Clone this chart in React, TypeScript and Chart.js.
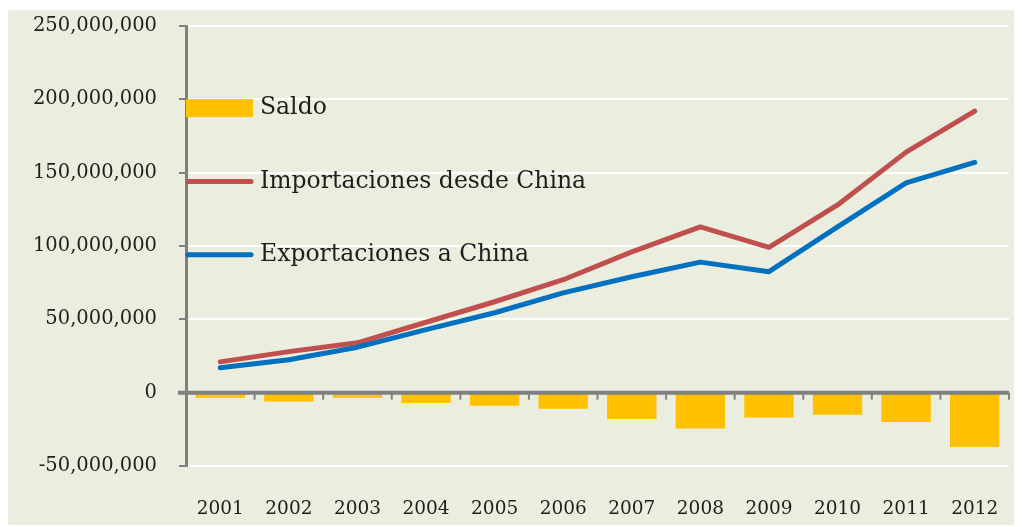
import React, { useEffect, useRef } from "react";
import { Chart, registerables } from "chart.js";

Chart.register(...registerables);

const years = ["2001", "2002", "2003", "2004", "2005", "2006", "2007", "2008", "2009", "2010", "2011", "2012"];
const importaciones = [21e6, 28e6, 34e6, 48e6, 62e6, 77e6, 96e6, 113e6, 99e6, 128e6, 164e6, 192e6];
const exportaciones = [17e6, 22.5e6, 31e6, 43e6, 54.5e6, 68e6, 79e6, 89e6, 82.5e6, 113e6, 143e6, 157e6];
const saldo = [-3.5e6, -6e6, -3.5e6, -7e6, -9e6, -11e6, -18e6, -24.5e6, -17e6, -15e6, -20e6, -37e6];
const legendLabels = ["Saldo", "Importaciones desde China", "Exportaciones a China"];
const legendValues = [194e6, 144e6, 94e6];

const BG = "#EBEEDF";
const AXIS = "#808080";
const FONT = "'DejaVu Serif', serif";
const TEXT = "#1E1E1E";
const colors = ["#FFC000", "#C0504D", "#0070C0"];

const decorPlugin = {
  id: "decor",
  beforeDraw(chart: any) {
    const { ctx, width, height } = chart;
    ctx.save();
    ctx.fillStyle = BG;
    ctx.fillRect(0, 0, width, height);
    ctx.restore();
  },
  afterDatasetsDraw(chart: any) {
    const { ctx, chartArea, scales } = chart;
    const y0 = scales.y.getPixelForValue(0);
    const x = scales.x;
    ctx.save();
    ctx.strokeStyle = AXIS;
    ctx.lineWidth = 4;
    ctx.beginPath();
    ctx.moveTo(chartArea.left - 8, y0);
    ctx.lineTo(chartArea.right, y0);
    ctx.stroke();
    ctx.lineWidth = 2;
    const n = years.length;
    const step = x.getPixelForValue(1) - x.getPixelForValue(0);
    for (let i = 1; i <= n; i++) {
      const bx = x.getPixelForValue(i - 1) + step / 2;
      ctx.beginPath();
      ctx.moveTo(bx, y0);
      ctx.lineTo(bx, y0 + 7);
      ctx.stroke();
    }
    ctx.restore();
  },
  afterDraw(chart: any) {
    const { ctx, chartArea, scales } = chart;
    ctx.save();
    ctx.font = `23.5px ${FONT}`;
    ctx.textBaseline = "middle";
    ctx.fillStyle = TEXT;
    legendLabels.forEach((lab, i) => {
      const yy = scales.y.getPixelForValue(legendValues[i]);
      const x0 = chartArea.left;
      if (i === 0) {
        ctx.fillStyle = colors[0];
        ctx.fillRect(x0, yy - 9, 67, 18);
      } else {
        ctx.strokeStyle = colors[i];
        ctx.lineWidth = 5;
        ctx.lineCap = "round";
        ctx.beginPath();
        ctx.moveTo(x0 + 2, yy);
        ctx.lineTo(x0 + 65, yy);
        ctx.stroke();
      }
      ctx.fillStyle = TEXT;
      ctx.fillText(lab, x0 + 74, yy);
    });
    ctx.restore();
  },
};

export default function App() {
  const ref = useRef<HTMLCanvasElement>(null);
  useEffect(() => {
    if (!ref.current) return;
    const chart = new Chart(ref.current, {
      type: "bar",
      data: {
        labels: years,
        datasets: [
          {
            type: "bar",
            label: legendLabels[0],
            data: saldo,
            backgroundColor: colors[0],
            barPercentage: 0.9,
            categoryPercentage: 0.8,
            order: 3,
          },
          {
            type: "line",
            label: legendLabels[1],
            data: importaciones,
            borderColor: colors[1],
            borderWidth: 5,
            pointRadius: 0,
            tension: 0,
            borderCapStyle: "round",
            borderJoinStyle: "round",
            order: 2,
          },
          {
            type: "line",
            label: legendLabels[2],
            data: exportaciones,
            borderColor: colors[2],
            borderWidth: 5,
            pointRadius: 0,
            tension: 0,
            borderCapStyle: "round",
            borderJoinStyle: "round",
            order: 1,
          },
        ] as any,
      },
      options: {
        animation: false,
        responsive: false,
        maintainAspectRatio: false,
        layout: { padding: { top: 16, right: 13, left: 0, bottom: 0 } },
        plugins: { legend: { display: false }, tooltip: { enabled: false } },
        scales: {
          x: {
            grid: { display: false, drawTicks: false },
            border: { display: false },
            ticks: { font: { family: FONT, size: 18.5 }, color: TEXT, padding: 32, maxRotation: 0 },
            afterFit: (axis: any) => {
              axis.height = 59;
              axis.paddingLeft = 0;
              axis.paddingRight = 0;
            },
          },
          y: {
            min: -50e6,
            max: 250e6,
            ticks: {
              stepSize: 50e6,
              font: { family: FONT, size: 19.5 },
              color: TEXT,
              padding: 22,
              callback: (v: any) => Number(v).toLocaleString("en-US"),
            },
            grid: {
              color: (c: any) => (c.tick && c.tick.value === 0 ? "rgba(0,0,0,0)" : "#FFFFFF"),
              lineWidth: 2,
              tickColor: AXIS,
              tickLength: 7,
            },
            border: { color: AXIS, width: 3 },
            afterFit: (axis: any) => {
              axis.width = 178;
              axis.paddingTop = 0;
              axis.paddingBottom = 0;
            },
          },
        },
      },
      plugins: [decorPlugin],
    });
    return () => chart.destroy();
  }, []);
  return (
    <div style={{ marginTop: 2, width: 1014, height: 515 }}>
      <canvas ref={ref} width={1014} height={515} style={{ display: "block" }} />
    </div>
  );
}
